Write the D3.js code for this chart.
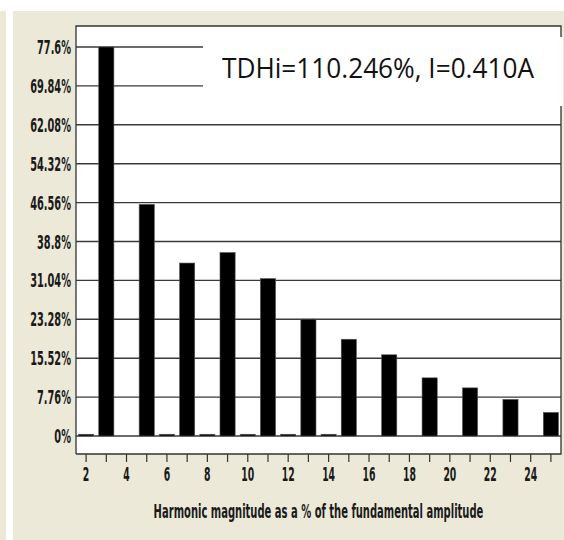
<!DOCTYPE html>
<html>
<head>
<meta charset="utf-8">
<script src="https://cdn.jsdelivr.net/npm/d3@7"></script>
<style>
  html, body { margin: 0; padding: 0; background: #fff; }
  svg { display: block; }
</style>
</head>
<body>
<svg id="chart" width="564" height="540"></svg>
<script>
// ---- data ----
const harmonics = [2,3,4,5,6,7,8,9,10,11,12,13,14,15,16,17,18,19,20,21,22,23,24,25];
const magnitudes = [0.35,77.6,0,46.2,0.35,34.5,0.35,36.6,0.35,31.4,0.35,23.3,0.35,19.3,0,16.2,0,11.6,0,9.6,0,7.3,0,4.7];
const yTickValues = [0,7.76,15.52,23.28,31.04,38.8,46.56,54.32,62.08,69.84,77.6];
const yTickLabels = ["0%","7.76%","15.52%","23.28%","31.04%","38.8%","46.56%","54.32%","62.08%","69.84%","77.6%"];
const xTickLabels = ["2","4","6","8","10","12","14","16","18","20","22","24"];
const xTitle = "Harmonic magnitude as a % of the fundamental amplitude";
const annotation = "TDHi=110.246%, I=0.410A";

const svg = d3.select("#chart");
const beige = "#ECE9D8";
const condFont = "'Liberation Sans Narrow','DejaVu Sans Condensed','Roboto Condensed',sans-serif";

// backgrounds
svg.append("rect").attr("x",0).attr("y",11).attr("width",6).attr("height",529).attr("fill",beige);
svg.append("rect").attr("x",13).attr("y",11).attr("width",551).attr("height",529).attr("fill",beige);

const plot = {left:76, top:26, right:561, bottom:454};
svg.append("rect").attr("x",plot.left).attr("y",plot.top)
  .attr("width",plot.right-plot.left).attr("height",plot.bottom-plot.top).attr("fill","#fff");

const x = d3.scaleBand().domain(harmonics).range([plot.left, plot.right])
  .paddingInner(0.25).paddingOuter(0.125);
const y = d3.scaleLinear().domain([0,77.6]).range([436,47]);

// gridlines
svg.append("g").selectAll("line").data(yTickValues).join("line")
  .attr("x1",plot.left).attr("x2",plot.right)
  .attr("y1",d=>y(d)).attr("y2",d=>y(d))
  .attr("stroke","#3a3a3a").attr("stroke-width",1.4);

// bars
svg.append("g").selectAll("rect").data(harmonics).join("rect")
  .attr("x",d=>x(d))
  .attr("width",x.bandwidth())
  .attr("y",(d,i)=>y(magnitudes[i]))
  .attr("height",(d,i)=>y(0)-y(magnitudes[i]))
  .attr("fill","#000")
  .attr("stroke","#555").attr("stroke-width",(d,i)=>magnitudes[i]>0?0.6:0);

// annotation box
svg.append("rect").attr("x",203).attr("y",37).attr("width",360).attr("height",69).attr("fill","#fff");
const ann = svg.append("text").attr("x",222).attr("y",78)
  .attr("font-family","'Open Sans','Noto Sans',sans-serif").attr("font-size",28)
  .attr("fill","#111").text(annotation);
ann.attr("textLength",312).attr("lengthAdjust","spacingAndGlyphs");

// plot border
svg.append("path")
  .attr("d",`M${plot.left},${plot.bottom}V${plot.top}H${plot.right}V37`)
  .attr("fill","none").attr("stroke","#333").attr("stroke-width",1.3);
svg.append("path")
  .attr("d",`M${plot.right},106V${plot.bottom}H${plot.left}`)
  .attr("fill","none").attr("stroke","#333").attr("stroke-width",1.3);

// measure condensing factor
const probe = svg.append("text").attr("font-family",condFont).attr("font-weight","bold")
  .attr("font-size",20).text("77.6%");
const k = 34 / probe.node().getComputedTextLength();
probe.remove();

// y axis labels
svg.append("g").selectAll("text").data(yTickValues).join("text")
  .attr("transform",d=>`translate(71,${y(d)+7}) scale(${k},1)`)
  .attr("text-anchor","end")
  .attr("font-family",condFont).attr("font-weight","bold").attr("font-size",20)
  .attr("fill","#1a1a1a")
  .text((d,i)=>yTickLabels[i]);

// x ticks
const xc = d => x(d) + x.bandwidth()/2;
svg.append("g").selectAll("line").data(harmonics).join("line")
  .attr("x1",d=>xc(d)).attr("x2",d=>xc(d))
  .attr("y1",plot.bottom).attr("y2",plot.bottom+8)
  .attr("stroke","#333").attr("stroke-width",1.2);

svg.append("g").selectAll("text").data(xTickLabels).join("text")
  .attr("transform",d=>`translate(${xc(+d)},481) scale(${k},1)`)
  .attr("text-anchor","middle")
  .attr("font-family",condFont).attr("font-weight","bold").attr("font-size",19)
  .attr("fill","#1a1a1a")
  .text(d=>d);

// x title
const tt = svg.append("text")
  .attr("font-family",condFont).attr("font-weight","bold").attr("font-size",19)
  .attr("fill","#1a1a1a").text(xTitle);
const tw = tt.node().getComputedTextLength();
const tk = 330 / tw;
tt.attr("text-anchor","middle")
  .attr("transform",`translate(${(plot.left+plot.right)/2},518) scale(${tk},1)`);
</script>
</body>
</html>
